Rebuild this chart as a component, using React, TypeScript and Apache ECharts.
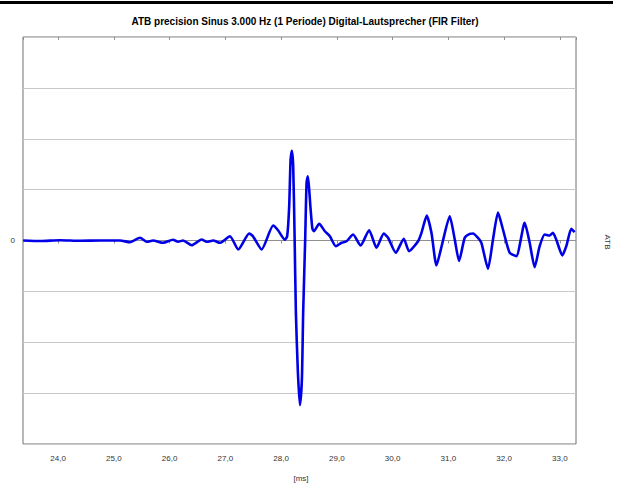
import React, { useEffect, useRef } from "react";
import * as echarts from "echarts";

const titleText = "ATB precision Sinus 3.000 Hz (1 Periode) Digital-Lautsprecher (FIR Filter)";
const xName = "[ms]";
const seriesName = "ATB";

// time in ms
const timeMs = [
  23.373, 23.677, 24.036, 24.394, 24.753, 25.111, 25.29, 25.47, 25.59, 25.703,
  25.882, 26.061, 26.151, 26.24, 26.396, 26.575, 26.665, 26.783, 26.903, 27.082,
  27.231, 27.428, 27.495, 27.651, 27.858, 27.948, 28.068, 28.109, 28.145, 28.17,
  28.193, 28.217, 28.242, 28.265, 28.301, 28.337, 28.373, 28.396, 28.432, 28.457,
  28.48, 28.504, 28.525, 28.561, 28.588, 28.683, 28.785, 28.875, 28.982, 29.084,
  29.174, 29.292, 29.425, 29.579, 29.711, 29.842, 29.919, 30.057, 30.201, 30.296,
  30.457, 30.518, 30.613, 30.697, 30.787, 30.894, 31.025, 31.115, 31.192, 31.294,
  31.383, 31.443, 31.532, 31.593, 31.711, 31.801, 31.891, 31.98, 32.1, 32.22,
  32.369, 32.459, 32.548, 32.638, 32.728, 32.817, 32.876, 32.937, 33.045, 33.116,
  33.206, 33.265,
];

// amplitude (grid units)
const amplitude = [
  0, -0.01, 0.006, -0.006, 0, 0, -0.033, 0.053, -0.025, 0,
  -0.045, 0.014, -0.025, 0, -0.092, 0.02, -0.025, 0, -0.045, 0.084,
  -0.176, 0.137, 0.084, -0.176, 0.294, 0.196, 0.014, 0.084, 0.673, 1.588,
  1.765, 1.457, 0.084, -1.412, -2.588, -3.235, -2.725, -1.412, 0.02, 1.137,
  1.261, 1.0, 0.673, 0.235, 0.182, 0.327, 0.182, 0.084, -0.112, -0.045,
  -0.014, 0.118, -0.098, 0.202, -0.143, 0.137, 0.053, -0.241, 0.033, -0.21,
  -0.014, 0.151, 0.49, 0.151, -0.49, -0.045, 0.476, 0.02, -0.402, 0.053,
  0.131, 0.137, 0.053, -0.045, -0.555, 0.02, 0.549, 0.216, -0.241, -0.308,
  0.347, -0.045, -0.524, -0.112, 0.118, 0.098, 0.151, 0.014, -0.294, -0.112,
  0.229, 0.163,
];

const xMin = 23.37;
const xMax = 33.29;
const yMin = -4;
const yMax = 4;

export default function App() {
  const ref = useRef<HTMLDivElement>(null);
  useEffect(() => {
    if (!ref.current) return;
    const chart = echarts.init(ref.current, null, { renderer: "svg" });
    const data = timeMs.map((t, i) => [t, amplitude[i]]);
    const fmt = (v: number) =>
      Math.abs(v - Math.round(v)) < 1e-6 ? v.toFixed(1).replace(".", ",") : "";
    const gridColors = ["#c8c8c8", "#c8c8c8", "#c8c8c8", "#c8c8c8", "#909090", "#c8c8c8", "#c8c8c8", "#c8c8c8", "#c8c8c8"];
    const labelFont = "'Liberation Sans', Arial, sans-serif";
    chart.setOption({
      animation: false,
      backgroundColor: "#ffffff",
      title: {
        text: titleText,
        left: 300,
        textAlign: "center",
        top: 11,
        textStyle: {
          fontFamily: "'Liberation Sans Narrow', 'Liberation Sans', Arial, sans-serif",
          fontSize: 10,
          fontWeight: "bold",
          color: "#000",
        },
      },
      grid: {
        left: 23,
        right: 43,
        top: 37,
        bottom: 40,
        show: true,
        borderColor: "#707070",
        borderWidth: 1,
        backgroundColor: "transparent",
        containLabel: false,
        outerBoundsMode: "none",
      },
      xAxis: [
        {
          type: "value",
          min: xMin,
          max: xMax,
          splitNumber: 10,
          axisLine: { show: false },
          axisTick: { show: true, length: 3, lineStyle: { color: "#909090" } },
          axisLabel: {
            show: true,
            margin: 10,
            fontSize: 8,
            color: "#333",
            fontFamily: labelFont,
            formatter: fmt,
            showMinLabel: false,
            showMaxLabel: false,
          },
          splitLine: { show: false },
        },
        {
          type: "value",
          position: "top",
          min: xMin,
          max: xMax,
          splitNumber: 10,
          axisLine: { show: false },
          axisTick: { show: true, inside: true, length: 3, lineStyle: { color: "#909090" } },
          axisLabel: { show: false },
          splitLine: { show: false },
        },
      ],
      yAxis: {
        type: "value",
        min: yMin,
        max: yMax,
        interval: 1,
        axisLine: { show: false },
        axisTick: { show: false },
        axisLabel: {
          margin: 8,
          fontSize: 8,
          color: "#333",
          fontFamily: labelFont,
          formatter: (v: number) => (v === 0 ? "0" : ""),
        },
        splitLine: { show: true, lineStyle: { color: gridColors, width: 1 } },
      },
      graphic: [
        { type: "rect", shape: { x: 0, y: 1, width: 613, height: 3 }, style: { fill: "#000" } },
        {
          type: "text",
          x: 607,
          y: 242,
          rotation: -Math.PI / 2,
          style: {
            text: seriesName,
            fontSize: 8,
            fill: "#333",
            fontFamily: labelFont,
            align: "center",
            verticalAlign: "middle",
          },
        },
        {
          type: "text",
          x: 301,
          y: 478,
          style: {
            text: xName,
            fontSize: 8,
            fill: "#333",
            fontFamily: labelFont,
            align: "center",
            verticalAlign: "middle",
          },
        },
      ],
      series: [
        {
          type: "line",
          name: seriesName,
          data,
          xAxisIndex: 0,
          showSymbol: false,
          smooth: 0.2,
          lineStyle: { color: "#0000e6", width: 2.6 },
        },
      ],
    });
    return () => chart.dispose();
  }, []);
  return (
    <div
      ref={ref}
      style={{ position: "fixed", left: 0, top: 0, width: 619, height: 484 }}
    />
  );
}
